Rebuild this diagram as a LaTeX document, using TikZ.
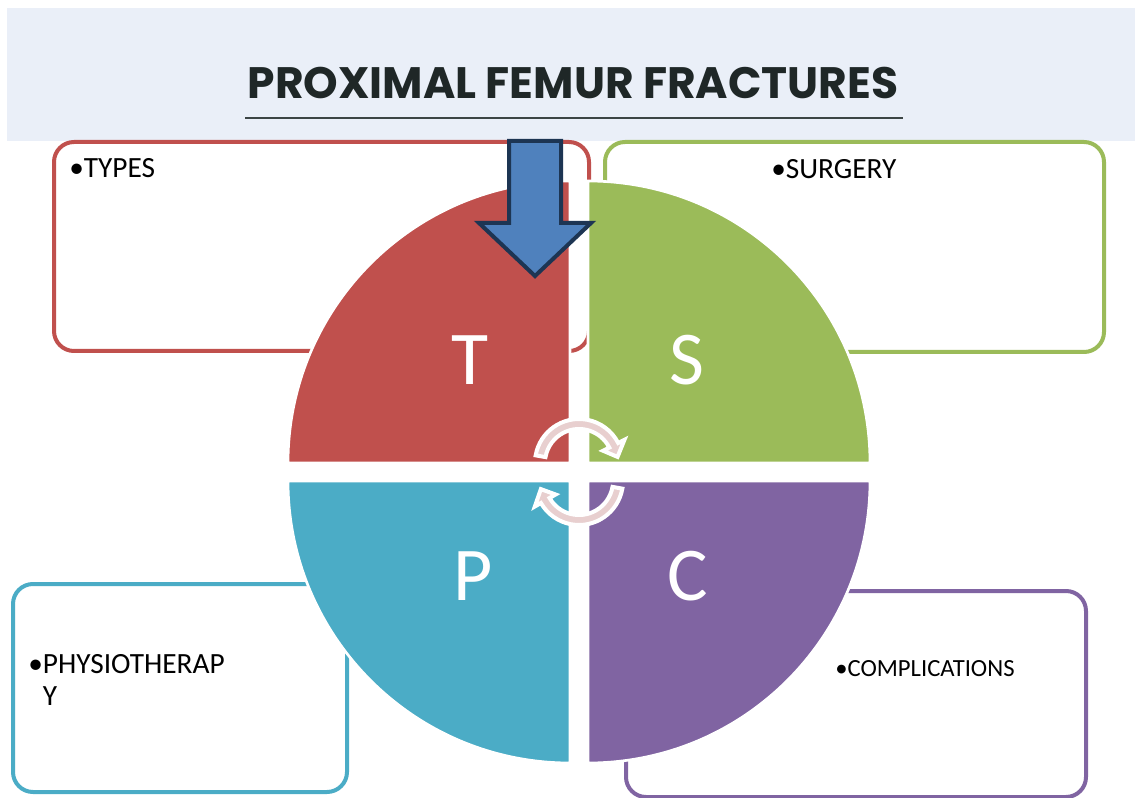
\documentclass[tikz,border=0pt]{standalone}
\usepackage{fontspec}
\setmainfont{Carlito}
\newfontfamily\pftitlefont{Poppins}
\definecolor{pfBand}{HTML}{EAEFF8}
\definecolor{pfInk}{HTML}{1F2727}
\definecolor{pfRule}{HTML}{3C4545}
\definecolor{pfRed}{HTML}{C0504D}
\definecolor{pfGreen}{HTML}{9BBB59}
\definecolor{pfBlue}{HTML}{4BACC6}
\definecolor{pfPurple}{HTML}{8064A2}
\definecolor{pfPointer}{HTML}{4F81BD}
\definecolor{pfNavy}{HTML}{1D3553}
\definecolor{pfPink}{HTML}{E8CFCF}
\tikzset{
  pf box/.style={fill=white, line width=3pt, rounded corners=15pt},
  pf quad/.style={draw=white, line width=2pt},
  pf letter/.style={font=\fontsize{57}{57}\selectfont, text=white, anchor=base, inner sep=0pt},
  pf item/.style={font=\fontsize{22}{24}\selectfont, anchor=base west, inner sep=0pt, align=left},
  pf turn/.style={fill=pfPink, draw=white, line width=3pt, line join=miter},
  pf pointer/.style={fill=pfPointer, draw=pfNavy, line width=3pt, line join=miter},
}

\begin{document}
\begin{tikzpicture}[x=0.75pt, y=-0.75pt]
  \useasboundingbox (0,0) rectangle (1135,798);

  % Header band, title and rule
  \fill[pfBand] (7,8) rectangle (1135,141);
  \node[font={\pftitlefont\bfseries\fontsize{33}{36}\selectfont}, text=pfInk, anchor=base, inner sep=0pt]
    (title) at (573,99) {PROXIMAL FEMUR FRACTURES};
  \draw[pfRule, line width=1.6pt] (245,118) -- (903,118);

  % Four text boxes behind the wheel
  \draw[pf box, draw=pfRed] (54,142) rectangle (589,351);
  \draw[pf box, draw=pfGreen] (605,142) rectangle (1104,352);
  \draw[pf box, draw=pfBlue] (13,584) rectangle (347,792);
  \draw[pf box, draw=pfPurple] (626,591) rectangle (1086,797);

  \node[pf item] (types) at (69,178) {•TYPES};
  \node[pf item] (surgery) at (771,179) {•SURGERY};
  \node[pf item] (physio) at (28,705) {•PHYSIOTHERAP\\\hphantom{•}Y};
  \node[pf item, font=\fontsize{18.5}{22}\selectfont] (compl) at (835,676) {•COMPLICATIONS};

  % Quarter wheel
  \filldraw[pf quad, fill=pfRed] (570,463) -- (570,181) arc[start angle=270, end angle=180, radius=282] -- cycle;
  \filldraw[pf quad, fill=pfGreen] (588,463) -- (588,181) arc[start angle=270, end angle=360, radius=282] -- cycle;
  \filldraw[pf quad, fill=pfBlue] (570,481) -- (570,763) arc[start angle=90, end angle=180, radius=282] -- cycle;
  \filldraw[pf quad, fill=pfPurple] (588,481) -- (588,763) arc[start angle=90, end angle=0, radius=282] -- cycle;

  \node[pf letter] (tq) at (470,385) {T};
  \node[pf letter] (sq) at (687,385) {S};
  \node[pf letter] (pq) at (473,600) {P};
  \node[pf letter] (cq) at (688,600) {C};

  % Turning arrows in the middle
  \filldraw[pf turn, shift={(579,463)}] (190:44) arc[start angle=190, end angle=333, radius=44]
    -- (333:51) -- (351:39) -- (333:27) -- (333:34) arc[start angle=333, end angle=190, radius=34] -- cycle;
  \filldraw[pf turn, shift={(579,481)}] (10:44) arc[start angle=10, end angle=150, radius=44]
    -- (150:51) -- (168:39) -- (150:27) -- (150:34) arc[start angle=150, end angle=10, radius=34] -- cycle;

  % Big pointer into the T quarter
  \filldraw[pf pointer] (509,141) -- (561,141) -- (561,223) -- (591,223) -- (535,276)
    -- (479,223) -- (509,223) -- cycle;
\end{tikzpicture}
\end{document}
